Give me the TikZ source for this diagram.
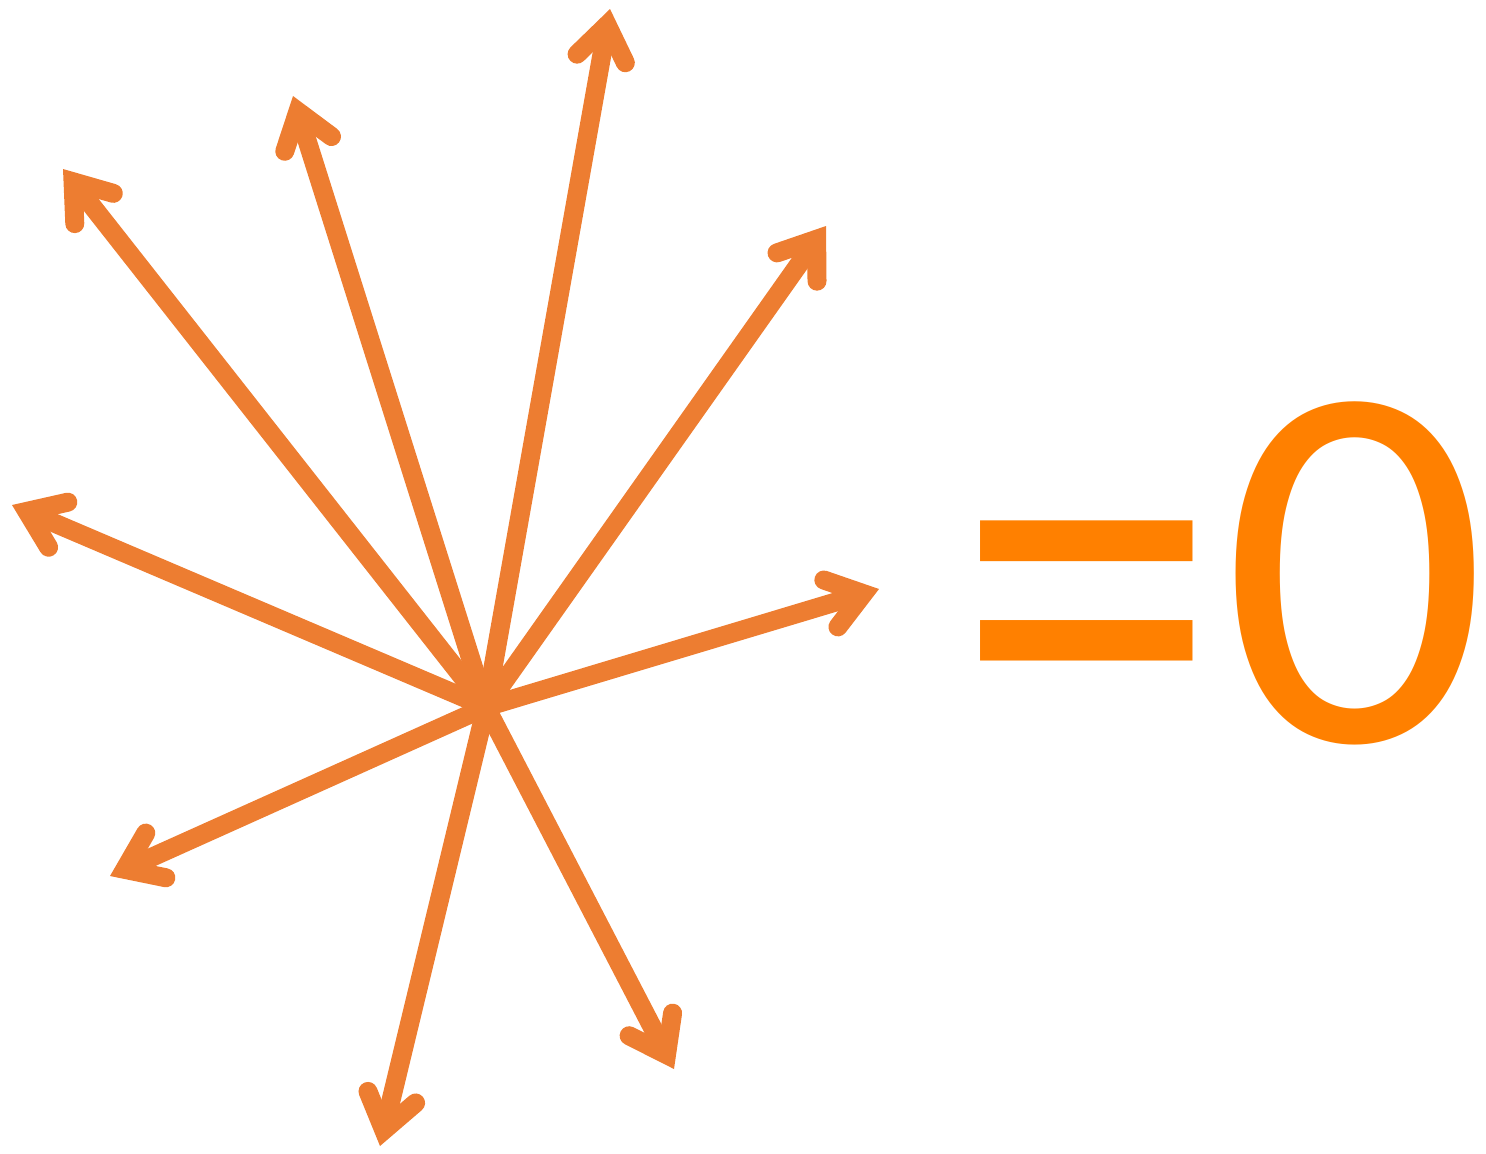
\documentclass[tikz,border=0pt]{standalone}
\usepackage{fontspec}
\usepackage{tikz}
\usetikzlibrary{arrows.meta}
\newfontfamily\eqfont{Carlito}
\definecolor{ray}{RGB}{237,125,49}
\definecolor{eqc}{RGB}{255,128,0}
\tikzset{vec/.style={ray,line width=0.38cm,line cap=round,
  -{Straight Barb[length=0.68cm,width=0.98cm,line cap=round,line join=miter]}},
  big/.style={eqc,inner sep=0,font=\eqfont\fontsize{298}{298}\selectfont}}

\begin{document}
\begin{tikzpicture}[x=0.02cm,y=-0.02cm]
  \useasboundingbox (0,0) rectangle (1486,1153);
  \coordinate (o) at (486,707);
  \coordinate (t1) at (610,9); \coordinate (t2) at (293,96); \coordinate (t3) at (63,169);
  \coordinate (t4) at (12,505); \coordinate (t5) at (110,876); \coordinate (t6) at (380,1146);
  \coordinate (t7) at (674,1069); \coordinate (t8) at (879,589); \coordinate (t9) at (826,226);
  \draw[vec] (o) -- (t1); \draw[vec] (o) -- (t2); \draw[vec] (o) -- (t3);
  \draw[vec] (o) -- (t4); \draw[vec] (o) -- (t5); \draw[vec] (o) -- (t6);
  \draw[vec] (o) -- (t7); \draw[vec] (o) -- (t8); \draw[vec] (o) -- (t9);
  \node[big,anchor=base west] (eq) at (956,790) {\scalebox{1}[1.2]{=}};
  \node[big,anchor=base west] (zero) at (1222,741) {0};
\end{tikzpicture}
\end{document}
